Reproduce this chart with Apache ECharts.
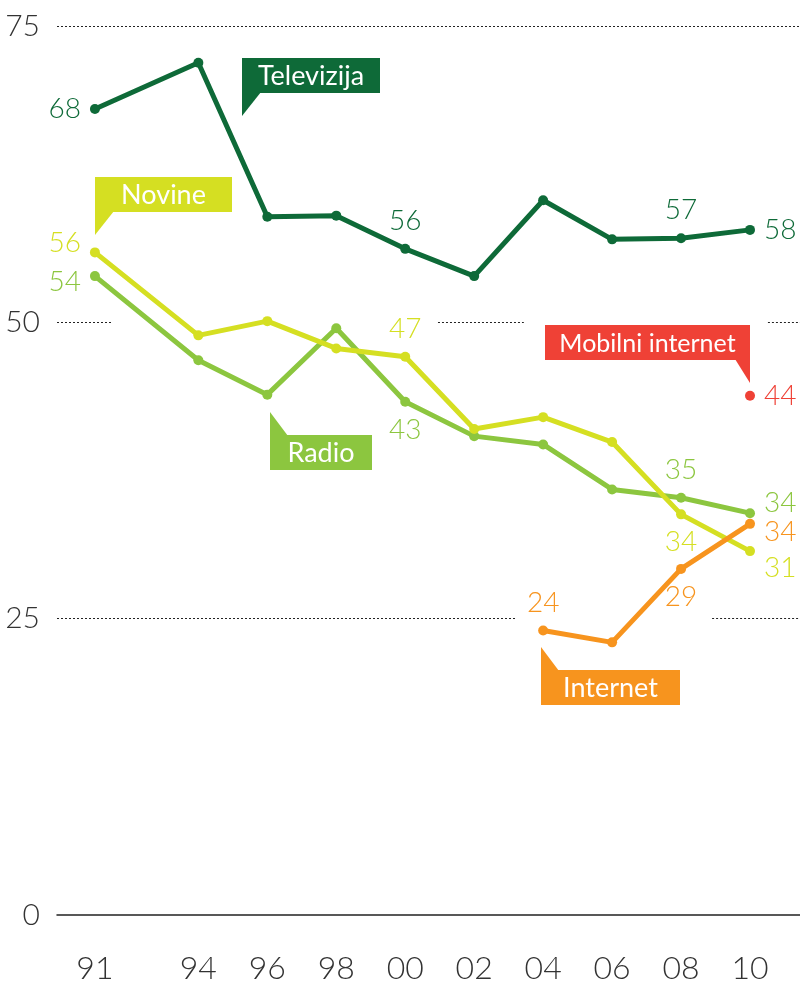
<!DOCTYPE html>
<html>
<head>
<meta charset="utf-8">
<script src="https://cdn.jsdelivr.net/npm/echarts@6/dist/echarts.min.js"></script>
<style>
html, body { margin: 0; padding: 0; background: #fff; }
#chart { width: 800px; height: 983px; }
</style>
</head>
<body>
<div id="chart"></div>
<script>
// godine i vrijednosti
const years = [1991, 1994, 1996, 1998, 2000, 2002, 2004, 2006, 2008, 2010];
const televizija = [68, 71.9, 58.9, 59, 56.2, 53.9, 60.3, 57, 57.1, 57.8];
const novine = [55.9, 48.9, 50.1, 47.8, 47.1, 41, 42, 39.9, 33.8, 30.7];
const radio = [53.9, 46.8, 43.9, 49.5, 43.3, 40.4, 39.7, 35.9, 35.2, 33.9];
const internet = [null, null, null, null, null, null, 24, 23, 29.2, 33];
const mobilni = [null, null, null, null, null, null, null, null, null, 43.8];

// brojevi ispisani na grafu
const tvLabels = [68, null, null, null, 56, null, null, null, 57, 58];
const novineLabels = [56, null, null, null, 47, null, null, null, 34, 31];
const radioLabels = [54, null, null, null, 43, null, null, null, 35, 34];
const internetLabels = [null, null, null, null, null, null, 24, null, 29, 34];
const mobilniLabels = [null, null, null, null, null, null, null, null, null, 44];

const yTicks = [0, 25, 50, 75];

const C_TV = '#0e6a38';
const C_NOV = '#d5df22';
const C_RAD = '#8cc63f';
const C_INT = '#f7941e';
const C_MOB = '#ef4136';
const FONT = 'Lato';

const dom = document.getElementById('chart');
const myChart = echarts.init(dom);

// polozaj broja uz tocku: [pozicija, pomak]
const placeTv = { 0: ['left', [0, 0]], 4: ['top', [0, 0]], 8: ['top', [0, 0]], 9: ['right', [0, 0]] };
const placeNov = { 0: ['left', [0, -9]], 4: ['top', [0, 0]], 8: ['bottom', [0, 0]], 9: ['right', [0, 17]] };
const placeRad = { 0: ['left', [0, 6]], 4: ['bottom', [0, 0]], 8: ['top', [0, 0]], 9: ['right', [0, -10]] };
const placeInt = { 6: ['top', [0, 0]], 8: ['bottom', [0, 0]], 9: ['right', [0, 8]] };
const placeMob = { 9: ['right', [0, 0]] };

function buildData(values, labels, place, color) {
    const out = [];
    values.forEach((v, i) => {
        if (v == null) return;
        const item = { value: [years[i], v] };
        if (labels[i] != null) {
            const p = place[i];
            item.label = {
                show: true,
                position: p[0],
                offset: p[1],
                distance: 9,
                formatter: String(labels[i]),
                color: color,
                fontFamily: FONT,
                fontWeight: 300,
                fontSize: 28
            };
        }
        out.push(item);
    });
    return out;
}

function lineSeries(name, values, labels, place, color) {
    return {
        name: name,
        type: 'line',
        data: buildData(values, labels, place, color),
        symbol: 'circle',
        symbolSize: 10,
        showSymbol: true,
        lineStyle: { color: color, width: 5 },
        itemStyle: { color: color },
        label: { show: false },
        z: 3
    };
}

// isprekidane linije mreze
const X0 = 1989.9, X1 = 2011.45;
const gridSegments = [
    [75, X0, X1],
    [50, X0, 1991.49], [50, 2000.95, 2003.44], [50, 2010.52, X1],
    [25, X0, 2003.21], [25, 2008.9, X1]
];

const option = {
    backgroundColor: '#fff',
    animation: false,
    grid: { left: 57, right: 0, top: 26, bottom: 68, containLabel: false, outerBoundsMode: 'none' },
    xAxis: {
        type: 'value',
        min: X0,
        max: X1,
        splitLine: { show: false },
        axisTick: { show: false },
        axisLine: { show: true, lineStyle: { color: '#222', width: 1.5 } },
        axisLabel: {
            customValues: years,
            formatter: v => String(v % 100).padStart(2, '0'),
            fontFamily: FONT,
            fontWeight: 300,
            fontSize: 32,
            color: '#333',
            margin: 38
        }
    },
    yAxis: {
        type: 'value',
        min: 0,
        max: 75,
        interval: 25,
        splitLine: { show: false },
        axisLine: { show: false },
        axisTick: { show: false },
        axisLabel: {
            customValues: yTicks,
            fontFamily: FONT,
            fontWeight: 300,
            fontSize: 30,
            color: '#333',
            margin: 17
        }
    },
    series: [
        {
            type: 'line',
            data: [],
            silent: true,
            markLine: {
                silent: true,
                symbol: 'none',
                label: { show: false },
                lineStyle: { color: '#222', width: 1, type: [2, 2] },
                data: gridSegments.map(s => [{ coord: [s[1], s[0]] }, { coord: [s[2], s[0]] }])
            },
            z: 1
        },
        lineSeries('Televizija', televizija, tvLabels, placeTv, C_TV),
        lineSeries('Radio', radio, radioLabels, placeRad, C_RAD),
        lineSeries('Novine', novine, novineLabels, placeNov, C_NOV),
        lineSeries('Internet', internet, internetLabels, placeInt, C_INT),
        lineSeries('Mobilni internet', mobilni, mobilniLabels, placeMob, C_MOB)
    ]
};

myChart.setOption(option);

// oznake u kucicama
const callouts = [
    { text: 'Televizija', color: C_TV, at: [1995.26, 72.3], w: 138, tail: 'bottomLeft', size: 27 },
    { text: 'Novine', color: C_NOV, at: [1991, 62.26], w: 137, tail: 'bottomLeft', size: 27 },
    { text: 'Radio', color: C_RAD, at: [1996.08, 40.5], w: 102, tail: 'topLeft', size: 27 },
    { text: 'Internet', color: C_INT, at: [2003.94, 20.67], w: 139, tail: 'topLeft', size: 27 },
    { text: 'Mobilni internet', color: C_MOB, at: [2004.05, 49.78], w: 205, tail: 'bottomRight', size: 25 }
];

function calloutEls(c) {
    const p = myChart.convertToPixel({ gridIndex: 0 }, c.at);
    const x = Math.round(p[0]), y = Math.round(p[1]), w = c.w, h = 35, t = 23;
    let tail;
    if (c.tail === 'bottomLeft') tail = [[x, y + h - 1], [x, y + h + t], [x + 19, y + h - 1]];
    else if (c.tail === 'topLeft') tail = [[x, y + 1], [x, y - t], [x + 18, y + 1]];
    else tail = [[x + w, y + h - 1], [x + w, y + h + t], [x + w - 15, y + h - 1]];
    return [
        { type: 'rect', shape: { x: x, y: y, width: w, height: h }, style: { fill: c.color }, z: 10 },
        { type: 'polygon', shape: { points: tail }, style: { fill: c.color }, z: 10 },
        {
            type: 'text', x: x + w / 2, y: y + h / 2 + 1, z: 11,
            style: {
                text: c.text, fill: '#fff', fontFamily: FONT, fontSize: c.size,
                align: 'center', verticalAlign: 'middle',
                textAlign: 'center', textVerticalAlign: 'middle'
            }
        }
    ];
}

let els = [];
callouts.forEach(c => { els = els.concat(calloutEls(c)); });
myChart.setOption({ graphic: { elements: els } });

window.addEventListener('resize', function () {
    myChart.resize();
});
</script>
</body>
</html>
